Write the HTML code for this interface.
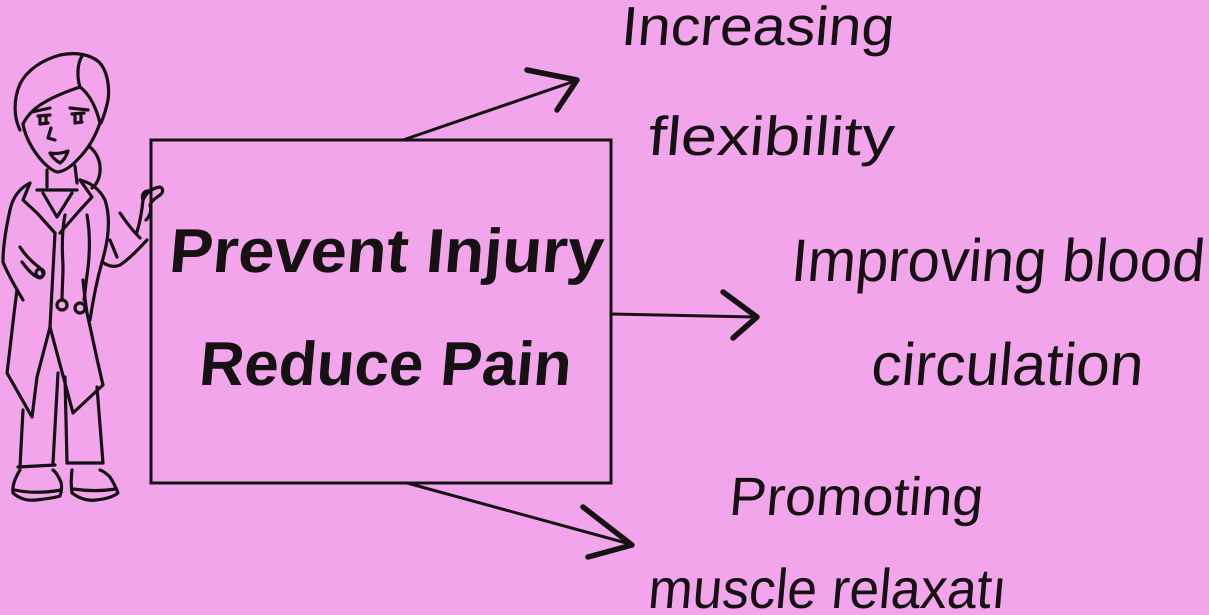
<!DOCTYPE html>
<html>
<head>
<meta charset="utf-8">
<style>
  html, body { margin:0; padding:0; background:#f3a5ec; }
  body { width:1209px; height:615px; overflow:hidden; }
  svg { display:block; }
  .t { font-family:"Liberation Sans", "DejaVu Sans", sans-serif; fill:#161214; }
</style>
</head>
<body>
<svg width="1209" height="615" viewBox="0 0 1209 615" xmlns="http://www.w3.org/2000/svg">
  <rect x="0" y="0" width="1209" height="615" fill="#f3a5ec"/>

  <!-- Main box -->
  <rect x="151" y="140" width="460" height="343" fill="none" stroke="#161214" stroke-width="3"/>

  <!-- Main text -->
  <g transform="translate(168,272) skewX(-5)">
    <text class="t" x="0" y="0" font-size="62" font-weight="bold" textLength="434" lengthAdjust="spacingAndGlyphs">Prevent Injury</text>
  </g>
  <g transform="translate(198,385) skewX(-5)">
    <text class="t" x="0" y="0" font-size="62" font-weight="bold" textLength="372" lengthAdjust="spacingAndGlyphs">Reduce Pain</text>
  </g>

  <!-- Arrows -->
  <g fill="none" stroke="#161214" stroke-linecap="round" stroke-linejoin="round">
    <line x1="403" y1="140" x2="575" y2="81" stroke-width="3"/>
    <path d="M527 70 L577 80 L557 110" stroke-width="5.5"/>

    <line x1="611" y1="314" x2="755" y2="317" stroke-width="3"/>
    <path d="M723 292 L757 317 L733 338" stroke-width="5.5"/>

    <line x1="407" y1="483" x2="630" y2="544" stroke-width="3"/>
    <path d="M583 507 L632 545 L588 557" stroke-width="5.5"/>
  </g>

  <!-- Side labels -->
  <g transform="translate(620,45) skewX(-5)">
    <text class="t" x="0" y="0" font-size="55" textLength="273" lengthAdjust="spacingAndGlyphs">Increasing</text>
  </g>
  <g transform="translate(647,155) skewX(-5)">
    <text class="t" x="0" y="0" font-size="55" textLength="246" lengthAdjust="spacingAndGlyphs">flexibility</text>
  </g>
  <g transform="translate(790,281) skewX(-5)">
    <text class="t" x="0" y="0" font-size="60" textLength="413" lengthAdjust="spacingAndGlyphs">Improving blood</text>
  </g>
  <g transform="translate(870,385) skewX(-5)">
    <text class="t" x="0" y="0" font-size="60" textLength="272" lengthAdjust="spacingAndGlyphs">circulation</text>
  </g>
  <g transform="translate(728,515) skewX(-5)">
    <text class="t" x="0" y="0" font-size="54" textLength="254" lengthAdjust="spacingAndGlyphs">Promoting</text>
  </g>
  <g transform="translate(647,608) skewX(-5)">
    <text class="t" x="0" y="0" font-size="56" textLength="358" lengthAdjust="spacingAndGlyphs">muscle relaxatı</text>
  </g>

  <!-- Doctor figure -->
  <g fill="none" stroke="#161214" stroke-width="3.2" stroke-linecap="round" stroke-linejoin="round">
    <!-- hair outline -->
    <path d="M20 130 C14 118 13 100 20 84 C27 70 42 60 60 55 C75 52 90 54 99 62 C107 70 110 86 108 100 C106 110 104 116 101 123"/>
    <!-- part line and bangs -->
    <path d="M82 56 C77 64 77 78 80 87"/>
    <path d="M80 87 C68 91 55 96 45 102 C34 108 27 116 23 124"/>
    <path d="M80 87 C88 93 95 103 100 123"/>
    <!-- face -->
    <path d="M23 124 C25 136 32 150 43 162 C49 168 54 172 58 172 C65 171 72 166 79 158 C88 149 95 137 100 123"/>
    <!-- eyebrows -->
    <path d="M32 112 L50 108"/>
    <path d="M70 108 L88 110"/>
    <!-- eyes -->
    <path d="M38 116 L50 115 M40 116 L40 124 M46 116 L46 123 M40 124 L48 123"/>
    <path d="M72 114 L84 113 M75 114 L75 123 M81 114 L81 122 M75 123 L82 122"/>
    <!-- nose -->
    <path d="M51 128 L48 138 L55 140"/>
    <!-- mouth -->
    <path d="M50 153 C56 154 63 153 68 151 C66 157 63 161 60 163 C55 160 52 157 50 153 Z"/>
    <!-- ponytail -->
    <path d="M90 147 C97 153 101 162 100 172 C99 180 96 185 92 188"/>
    <!-- neck -->
    <path d="M47 170 L47 187"/>
    <path d="M75 166 L77 183"/>
    <!-- shirt neckline -->
    <path d="M37 190 L77 190"/>
    <path d="M43 193 L57 217 L72 193"/>
    <!-- lapels -->
    <path d="M30 183 L23 200 L37 213 L55 233"/>
    <path d="M80 180 L92 197 L80 210 L60 233"/>
    <!-- shoulders / left arm -->
    <path d="M30 183 C20 188 13 196 10 210 C6 228 3 248 3 262 C8 275 16 288 23 300"/>
    <path d="M20 247 C25 255 32 262 40 268 C44 272 44 277 40 278 C34 277 28 270 22 262"/>
    <circle cx="40" cy="273" r="4"/>
    <!-- right arm -->
    <path d="M80 180 C92 183 100 190 105 200 C110 215 110 235 102 262"/>
    <path d="M102 262 C108 266 114 268 120 265 C128 260 136 252 147 240"/>
    <path d="M110 240 L117 257"/>
    <path d="M120 213 C126 222 132 230 140 238"/>
    <!-- hand -->
    <path d="M137 232 C140 222 142 210 143 200 C146 193 152 188 160 187 C163 188 164 192 160 195 C156 198 152 200 150 205 C152 210 150 216 146 220"/>
    <path d="M143 200 C141 195 144 190 150 191"/>
    <!-- stethoscope -->
    <path d="M65 215 C62 230 62 250 63 265 C63 280 62 290 62 300"/>
    <path d="M87 215 C90 232 90 250 88 268 C86 282 85 292 84 300"/>
    <circle cx="62" cy="305" r="5"/>
    <circle cx="80" cy="308" r="5"/>
    <!-- coat center -->
    <path d="M55 233 L50 327"/>
    <!-- coat left flap -->
    <path d="M17 290 C13 320 10 350 7 373 L32 417 L37 377 L50 327"/>
    <!-- coat right flap -->
    <path d="M50 327 L73 413 L103 385 C97 360 92 335 87 313 C85 300 84 290 83 280"/>
    <path d="M102 262 C97 280 93 300 90 320"/>
    <!-- pants -->
    <path d="M23 410 L20 467"/>
    <path d="M58 373 L53 463"/>
    <path d="M65 377 L67 463"/>
    <path d="M97 387 L103 463"/>
    <path d="M18 467 L55 465"/>
    <path d="M67 463 L103 463"/>
    <!-- shoes -->
    <path d="M20 470 C15 478 12 486 13 493 C20 499 27 501 36 500 C45 499 54 498 60 496 C62 490 62 486 61 482 C58 476 56 472 53 470"/>
    <path d="M15 490 C28 493 45 493 61 490"/>
    <path d="M72 470 C71 478 71 486 72 493 C80 499 88 501 96 500 C106 499 113 497 118 493 C116 487 113 482 110 477 C106 473 103 471 100 470"/>
    <path d="M73 489 C87 491 103 491 116 489"/>
  </g>
</svg>
</body>
</html>
